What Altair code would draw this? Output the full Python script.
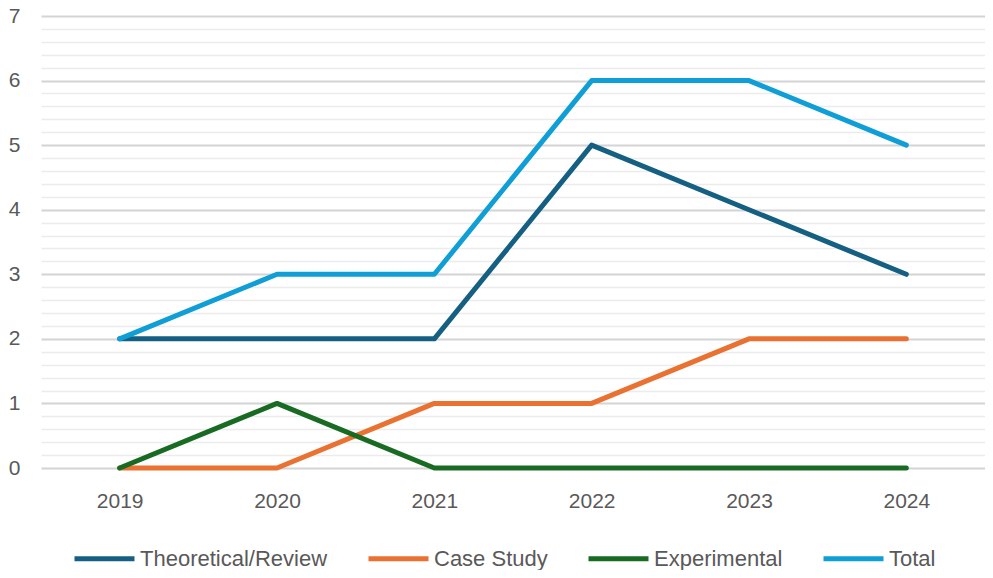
import altair as alt
import pandas as pd

years = ["2019", "2020", "2021", "2022", "2023", "2024"]
series = ["Theoretical/Review", "Case Study", "Experimental", "Total"]
theoretical = [2, 2, 2, 5, 4, 3]
case_study = [0, 0, 1, 1, 2, 2]
experimental = [0, 1, 0, 0, 0, 0]
total = [2, 3, 3, 6, 6, 5]
colors = ["#156082", "#E97132", "#196B24", "#0F9ED5"]

rows = []
for name, vals in zip(series, [theoretical, case_study, experimental, total]):
    for y, v in zip(years, vals):
        rows.append({"Year": y, "Series": name, "Value": v, "order": series.index(name)})
df = pd.DataFrame(rows)

tick_vals = [round(i * 0.2, 1) for i in range(0, 36)]
is_int = "abs(datum.value - round(datum.value)) < 0.01"

chart = alt.Chart(df).mark_line(strokeWidth=5, strokeCap="round", strokeJoin="round").encode(
    x=alt.X("Year:N", sort=years, title=None,
            scale=alt.Scale(paddingInner=0, paddingOuter=0.5),
            axis=alt.Axis(labelAngle=0, domain=False, ticks=False, grid=False,
                          labelFontSize=21, labelColor="#595959", labelPadding=22,
                          labelFont="Liberation Sans")),
    y=alt.Y("Value:Q", title=None,
            scale=alt.Scale(domain=[0, 7], nice=False),
            axis=alt.Axis(values=tick_vals, domain=False, ticks=False, labelOverlap=False,
                          labelExpr=is_int + " ? format(datum.value, 'd') : ''",
                          labelFontSize=21, labelColor="#595959", labelPadding=21,
                          labelFont="Liberation Sans",
                          gridColor={"condition": {"test": is_int, "value": "#d4d4d4"}, "value": "#ececec"},
                          gridWidth={"condition": {"test": is_int, "value": 2}, "value": 1.5})),
    color=alt.Color("Series:N", sort=series,
                    scale=alt.Scale(domain=series, range=colors),
                    legend=alt.Legend(orient="bottom", direction="horizontal", title=None,
                                      padding=31, offset=-16,
                                      symbolType="stroke", symbolSize=3600, symbolStrokeWidth=5,
                                      labelFontSize=22, labelColor="#595959", labelFont="Liberation Sans",
                                      labelLimit=400, labelOffset=3, columnPadding=30)),
    order=alt.Order("order:Q"),
).properties(width=944, height=452,
             autosize=alt.AutoSizeParams(type="none"),
             padding={"left": 33, "top": 8, "right": 0, "bottom": 102}
).configure_view(stroke=None)

chart.save("out.html", embed_options={"renderer": "svg", "actions": False})
